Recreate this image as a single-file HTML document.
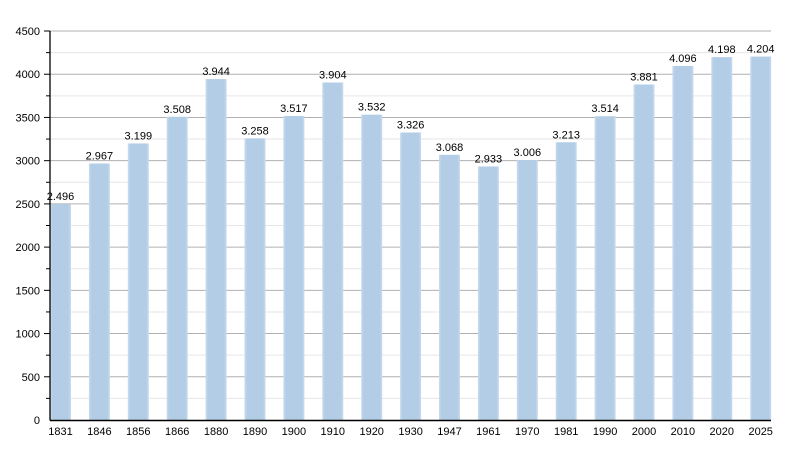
<!DOCTYPE html>
<html><head><meta charset="utf-8"><style>
html,body{margin:0;padding:0;background:#fff;}
svg{display:block;font-family:"Liberation Sans",sans-serif;}
</style></head><body>
<svg width="800" height="450" viewBox="0 0 800 450" xmlns="http://www.w3.org/2000/svg">
<defs>
<linearGradient id="g" x1="0" x2="1" y1="0" y2="0">
<stop offset="0" stop-color="#c9dcee"/><stop offset="0.12" stop-color="#b3cde6"/><stop offset="0.88" stop-color="#b3cde6"/><stop offset="1" stop-color="#c9dcee"/>
</linearGradient>
</defs>
<g id="grid"></g>
<g id="bars"></g>
<line x1="50" y1="31" x2="50" y2="420.5" stroke="#000" stroke-width="1.3"/>
<line x1="50" y1="420.5" x2="771" y2="420.5" stroke="#000" stroke-width="1.5"/>
<g id="labels" font-size="11" fill="#000"></g>
</svg>
<script>
const ns="http://www.w3.org/2000/svg";
const svg=document.querySelector('svg');
const grid=document.getElementById('grid'),bars=document.getElementById('bars'),lab=document.getElementById('labels');
function el(t,a,p,txt){const e=document.createElementNS(ns,t);for(const k in a)e.setAttribute(k,a[k]);if(txt!==undefined)e.textContent=txt;p.appendChild(e);return e;}
const y0=420,sc=389/4500;
for(let v=250;v<=4500;v+=250){const y=y0-v*sc;const major=v%500==0;
el('line',{x1:50,x2:771,y1:y,y2:y,stroke:major?'#b0b0b0':'#e6e6e6','stroke-width':1},grid);
el('line',{x1:major?44:46,x2:50,y1:y,y2:y,stroke:'#000','stroke-width':1},grid);
if(major)el('text',{x:40,y:y+4,'text-anchor':'end'},lab,v);}
el('text',{x:40,y:y0+4,'text-anchor':'end'},lab,0);
const yrs=[1831,1846,1856,1866,1880,1890,1900,1910,1920,1930,1947,1961,1970,1981,1990,2000,2010,2020,2025];
const vals=[2496,2967,3199,3508,3944,3258,3517,3904,3532,3326,3068,2933,3006,3213,3514,3881,4096,4198,4204];
yrs.forEach((yr,i)=>{const x=50+i*38.9;const h=vals[i]*sc;
el('rect',{x:x,y:y0-h,width:21,height:h,fill:'url(#g)'},bars);
el('text',{x:x+10.5,y:y0-h-4,'text-anchor':'middle'},lab,(vals[i]/1000).toFixed(3));
el('text',{x:x+10.5,y:435,'text-anchor':'middle'},lab,yr);});
</script>
</body></html>
